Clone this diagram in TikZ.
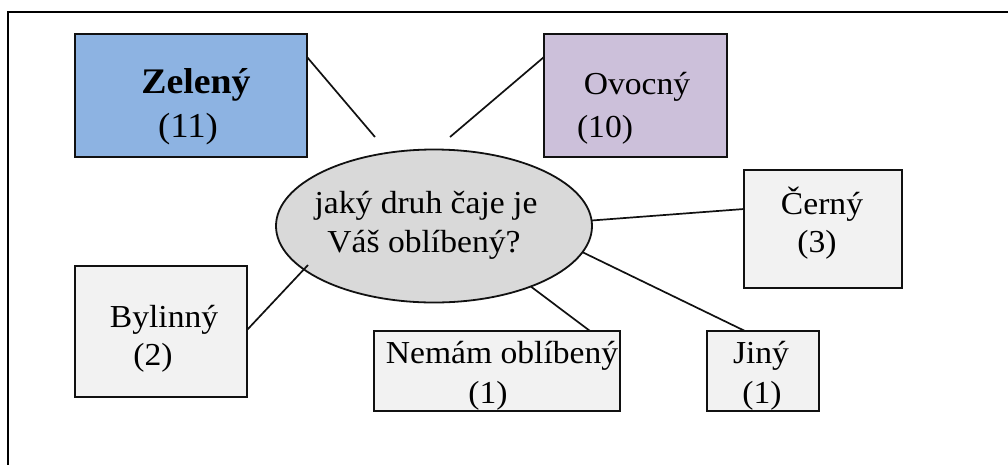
\documentclass[tikz,border=0pt]{standalone}
\usepackage{fontspec}
\setmainfont[FakeStretch=1.05]{Liberation Serif}
\usetikzlibrary{shapes.geometric,calc}
\definecolor{greenbox}{HTML}{8DB3E2}
\definecolor{fruitbox}{HTML}{CCC0DA}
\definecolor{plainbox}{HTML}{F2F2F2}
\definecolor{hub}{HTML}{D9D9D9}
\definecolor{edge}{HTML}{111111}
\begin{document}
\begin{tikzpicture}[x=1pt,y=-1pt,
  catbox/.style={draw=edge, line width=1.9pt, rectangle, inner sep=0pt, outer sep=0pt},
  hubshape/.style={draw=edge, line width=1.8pt, ellipse, fill=hub, inner sep=0pt, outer sep=0pt,
    minimum width=316pt, minimum height=153pt},
  lbl/.style={inner sep=0pt, anchor=base, font=\fontsize{32}{38}\selectfont},
  biglbl/.style={inner sep=0pt, anchor=base, font=\fontsize{36}{42}\selectfont\bfseries},
  numlbl/.style={inner sep=0pt, anchor=base, font=\fontsize{35}{42}\selectfont},
  link/.style={draw=edge, line width=1.7pt}]
\useasboundingbox (0,0) rectangle (1008,464);
% page frame
\draw[line width=2.4pt] (8,470) -- (8,12) -- (1012,12);

% category boxes
\node[catbox, fill=greenbox, minimum width=232pt, minimum height=123pt] (zel) at (191,95.5) {};
\node[catbox, fill=fruitbox, minimum width=183pt, minimum height=123pt] (ovo) at (635.5,95.5) {};
\node[catbox, fill=plainbox, minimum width=158pt, minimum height=118pt] (cer) at (823,229) {};
\node[catbox, fill=plainbox, minimum width=112pt, minimum height=80pt] (jin) at (763,371) {};
\node[catbox, fill=plainbox, minimum width=246pt, minimum height=80pt] (nem) at (497,371) {};
\node[catbox, fill=plainbox, minimum width=172pt, minimum height=131pt] (byl) at (161,331.5) {};

% central question
\node[hubshape] (q) at (434,226) {};
\node[lbl] (q1) at (426,213) {jaký druh čaje je};
\node[lbl] (q2) at (424,252) {Váš oblíbený?};

% box labels
\node[biglbl] (zel1) at (196,93) {Zelený};
\node[numlbl] (zel2) at (188,137) {(11)};
\node[lbl] (ovo1) at (637,94) {Ovocný};
\node[lbl] (ovo2) at (605,137) {(10)};
\node[lbl] (cer1) at (822,214) {Černý};
\node[lbl] (cer2) at (817,252) {(3)};
\node[lbl] (jin1) at (761,363) {Jiný};
\node[lbl] (jin2) at (762,403) {(1)};
\node[lbl] (nem1) at (502,363) {Nemám oblíbený};
\node[lbl] (nem2) at (488,403) {(1)};
\node[lbl] (byl1) at (164,327) {Bylinný};
\node[lbl] (byl2) at (153,365) {(2)};

% free ends of the connectors
\coordinate (zt) at (375,137);
\coordinate (ot) at (450,137);
\coordinate (bt) at (308,265);

% connectors
\draw[link] ([yshift=38.5pt]zel.east) -- (zt);
\draw[link] ([yshift=38.5pt]ovo.west) -- (ot);
\draw[link] (q.2) -- ([yshift=20pt]cer.west);
\draw[link] (q.-10.5) -- ([xshift=-18pt]jin.north);
\draw[link] (q.-32) -- ([xshift=93pt]nem.north);
\draw[link] ([yshift=1.5pt]byl.east) -- (bt);
\end{tikzpicture}
\end{document}
